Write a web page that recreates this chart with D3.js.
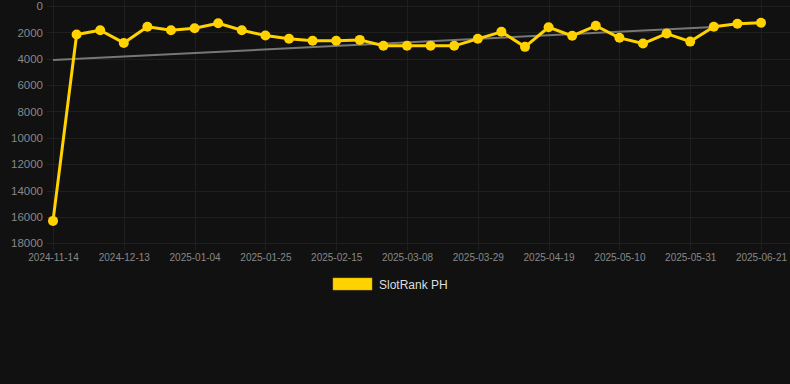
<!DOCTYPE html>
<html>
<head>
<meta charset="utf-8">
<script src="https://cdn.jsdelivr.net/npm/d3@7/dist/d3.min.js"></script>
<style>
  html, body { margin: 0; padding: 0; background: #111111; }
  svg { display: block; }
</style>
</head>
<body>
<svg id="chart" width="790" height="384"></svg>
<script>
const dates = ["2024-11-14","2024-11-29","2024-12-06","2024-12-13","2024-12-20","2024-12-28",
  "2025-01-04","2025-01-11","2025-01-18","2025-01-25","2025-02-01","2025-02-08",
  "2025-02-15","2025-02-22","2025-03-01","2025-03-08","2025-03-15","2025-03-22",
  "2025-03-29","2025-04-05","2025-04-12","2025-04-19","2025-04-26","2025-05-03",
  "2025-05-10","2025-05-17","2025-05-24","2025-05-31","2025-06-07","2025-06-14","2025-06-21"];
const ranks = [16300,2160,1840,2800,1580,1840,1690,1310,1840,2240,2490,2640,
  2640,2570,3020,3020,3020,3020,2490,1960,3100,1610,2260,1500,2415,2850,2090,2700,1580,1350,1275];
const tickLabels = ["2024-11-14","2024-12-13","2025-01-04","2025-01-25","2025-02-15","2025-03-08",
  "2025-03-29","2025-04-19","2025-05-10","2025-05-31","2025-06-21"];
const yTicks = [0,2000,4000,6000,8000,10000,12000,14000,16000,18000];
const trendDates = ["2024-11-14","2025-06-07"];
const trendValues = [4100,1600];
const seriesName = "SlotRank PH";

const svg = d3.select("#chart");
const x = d3.scalePoint().domain(dates).range([53, 761]);
const y = d3.scaleLinear().domain([0, 18000]).range([6, 243.3]);

// grid
const grid = svg.append("g");
grid.selectAll("line.h").data(yTicks).enter().append("line")
  .attr("x1", 47).attr("x2", 790)
  .attr("y1", d => Math.round(y(d)) + 0.5).attr("y2", d => Math.round(y(d)) + 0.5)
  .attr("stroke", "#1f1f1f").attr("stroke-width", 1);
grid.selectAll("line.v").data(tickLabels).enter().append("line")
  .attr("x1", d => Math.round(x(d)) + 0.5).attr("x2", d => Math.round(x(d)) + 0.5)
  .attr("y1", 0).attr("y2", 250)
  .attr("stroke", "#1f1f1f").attr("stroke-width", 1);

// y axis
const yAxis = d3.axisLeft(y).tickValues(yTicks).tickSize(0).tickPadding(0).tickFormat(d3.format("d"));
const ya = svg.append("g").attr("transform", "translate(43,0)").call(yAxis);
ya.select(".domain").remove();
ya.selectAll("text").attr("fill", "#888888").style("font-family", "Liberation Sans, Arial, sans-serif").style("font-size", "11.5px");

// x axis
const xAxis = d3.axisBottom(x).tickValues(tickLabels).tickSize(0).tickPadding(0);
const xa = svg.append("g").attr("transform", "translate(0,254)").call(xAxis);
xa.select(".domain").remove();
xa.selectAll("text").attr("fill", "#888888").style("font-family", "Liberation Sans, Arial, sans-serif").style("font-size", "10px");

// trend line
svg.append("line")
  .attr("x1", x(trendDates[0])).attr("y1", y(trendValues[0]))
  .attr("x2", x(trendDates[1])).attr("y2", y(trendValues[1]))
  .attr("stroke", "#777777").attr("stroke-width", 2);

// series line
const line = d3.line().x((d, i) => x(dates[i])).y(d => y(d));
svg.append("path").datum(ranks)
  .attr("d", line).attr("fill", "none")
  .attr("stroke", "#FFD200").attr("stroke-width", 3).attr("stroke-linejoin", "round");
svg.selectAll("circle.pt").data(ranks).enter().append("circle")
  .attr("cx", (d, i) => x(dates[i])).attr("cy", d => y(d)).attr("r", 5)
  .attr("fill", "#FFD200");

// legend
const lg = svg.append("g");
lg.append("rect").attr("x", 333).attr("y", 278).attr("width", 39).attr("height", 12)
  .attr("fill", "#FFD200").attr("stroke", "#c9a400").attr("stroke-width", 0.5);
lg.append("text").attr("x", 379).attr("y", 288.5).text(seriesName)
  .attr("fill", "#dddddd").style("font-family", "Liberation Sans, Arial, sans-serif").style("font-size", "12px");
</script>
</body>
</html>
